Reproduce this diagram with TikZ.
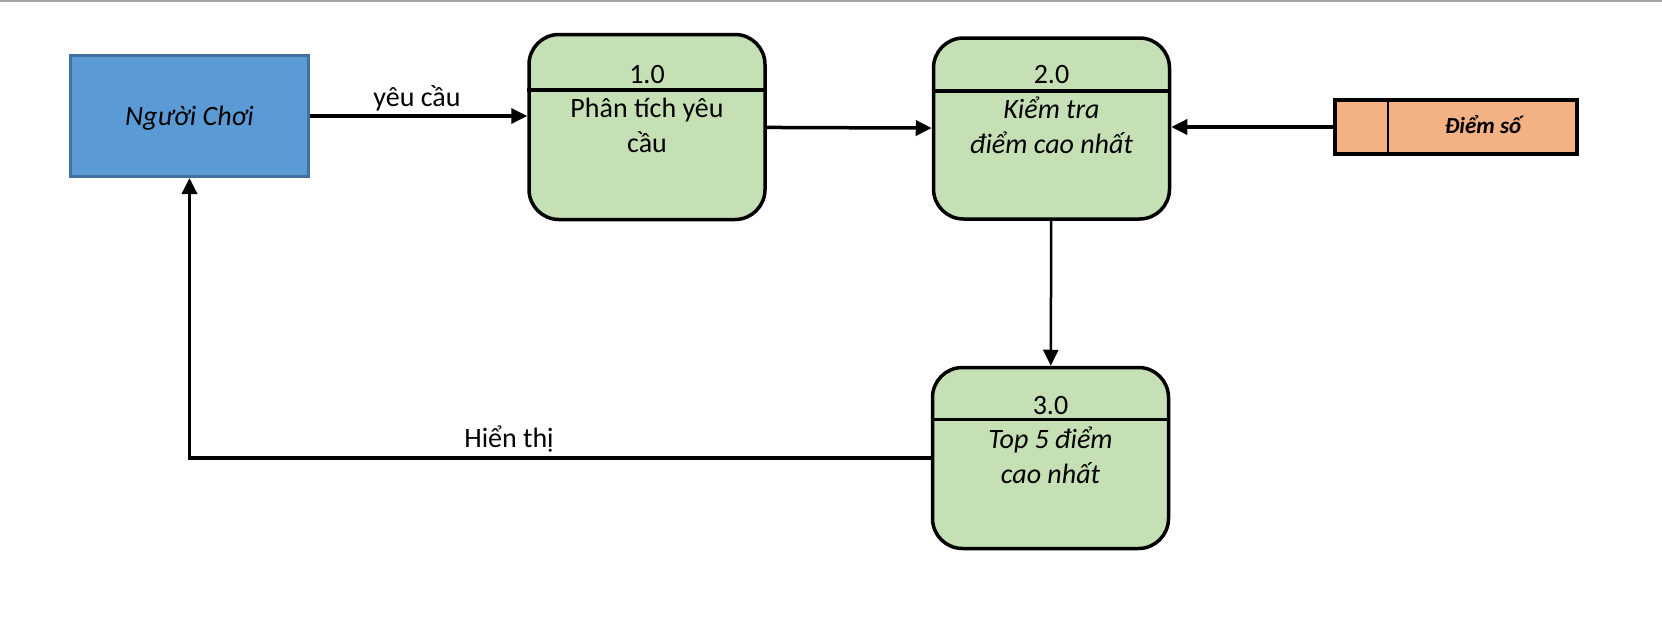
\documentclass[tikz,border=0pt]{standalone}
\usepackage{fontspec}
\setmainfont{Carlito}
\usetikzlibrary{arrows.meta,positioning}

\definecolor{playerblue}{HTML}{5B9BD5}
\definecolor{playeredge}{HTML}{41719C}
\definecolor{procgreen}{HTML}{C5E0B4}
\definecolor{storeorange}{HTML}{F4B183}

\tikzset{
  entity/.style={draw=playeredge, fill=playerblue, line width=3pt, minimum width=238pt, minimum height=121pt, inner sep=0pt},
  process/.style={draw, fill=procgreen, line width=3.5pt, rounded corners=30pt, minimum width=236pt, minimum height=181pt, inner sep=0pt},
  datastore/.style={draw, fill=storeorange, line width=4pt, minimum width=242pt, minimum height=54pt, inner sep=0pt},
  flow/.style={line width=3.5pt, -{Triangle[length=16pt,width=15pt]}},
  txt/.style={font=\fontsize{28}{35}\selectfont, align=center, inner sep=0pt, anchor=base},
}

\begin{document}
\begin{tikzpicture}[x=1pt, y=-1pt]
      \useasboundingbox (0,0) rectangle (1662,621);
      \draw[gray!70, line width=2pt] (0,1) -- (1662,1);
      % external entity and data store
      \node[entity] (player) at (189.5,116) {};
      \node[datastore] (store) at (1456,127) {};
      \draw[line width=2.5pt] (store.north west) ++(55pt,0) coordinate (sdiv) -- (sdiv |- store.south);
      % processes
      \node[process, minimum height=185pt] (p1) at (647,127) {};
      \node[process] (p2) at (1051.5,128.5) {};
      \node[process] (p3) at (1050.5,458) {};
      \draw[line width=3.5pt] ([yshift=-57pt]p1.north west) -- ([yshift=-57pt]p1.north east);
      \draw[line width=3.5pt] ([yshift=-54.5pt]p2.north west) -- ([yshift=-54.5pt]p2.north east);
      \draw[line width=3.5pt] ([yshift=-53.5pt]p3.north west) -- ([yshift=-53.5pt]p3.north east);
      % texts (base = last line)
      \node[txt] (tplayer) at (189.5,125) {\itshape Người Chơi};
      \node[txt, font=\fontsize{23}{28}\selectfont\bfseries\itshape] (tstore) at (1483,133) {Điểm số};
      \node[txt] (num1) at (647,83) {1.0};
      \node[txt] (name1) at (647,152) {Phân tích yêu\\cầu};
      \node[txt] (num2) at (1051.5,83) {2.0};
      \node[txt] (name2) at (1051.5,153) {\itshape Kiểm tra\\\itshape điểm cao nhất};
      \node[txt] (num3) at (1050.5,414) {3.0};
      \node[txt] (name3) at (1050.5,483) {\itshape Top 5 điểm\\\itshape cao nhất};
      % flows
      \draw[flow] (player.east) -- (player.east -| p1.west);
      \node[txt] (request) at (417,106) {yêu cầu};
      \draw[flow] (p1) -- (p2);
      \draw[flow] (store.west) -- (store.west -| p2.east);
      \draw[flow, line width=2.5pt] (p2) -- (p3);
      \draw[flow] (p3.west) -| (player.south);
      \node[txt] (show) at (509,447) {Hiển thị};
    \end{tikzpicture}
\end{document}
